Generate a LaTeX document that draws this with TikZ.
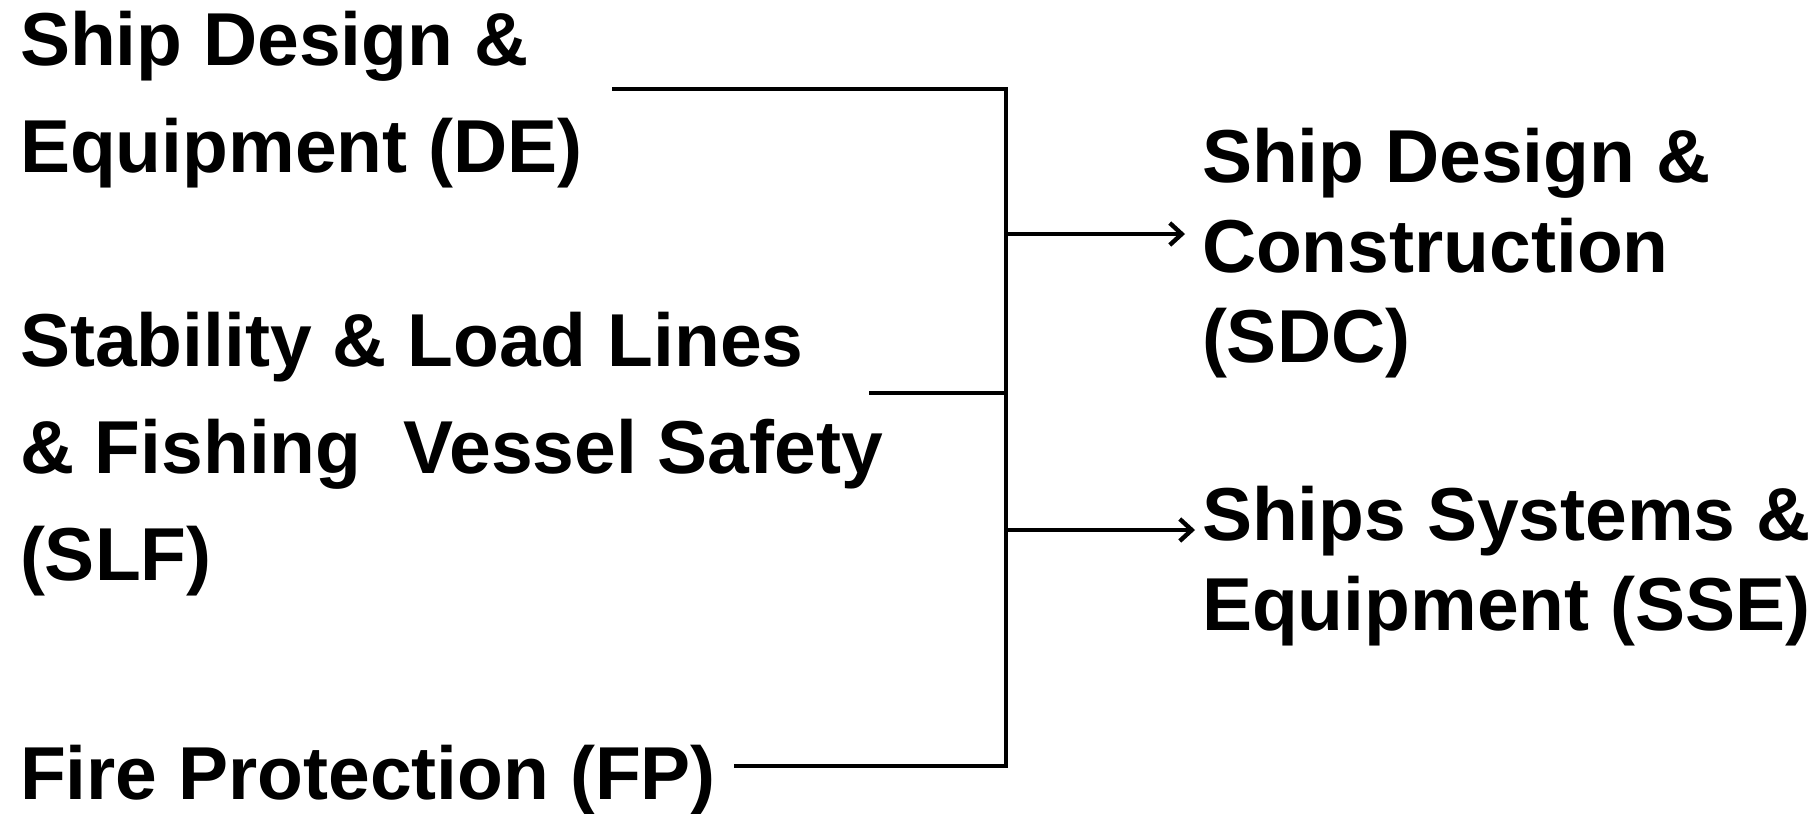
\documentclass[tikz,border=0pt]{standalone}
\usepackage{fontspec}
\setmainfont{Liberation Sans}
\usetikzlibrary{arrows.meta}
\begin{document}
\begin{tikzpicture}[x=0.5pt,y=-0.5pt,
  txt/.style={inner sep=0pt, outer sep=0pt, align=left, anchor=base west,
    font=\fontsize{37.5}{53.5}\selectfont\bfseries},
  rtxt/.style={txt, font=\fontsize{37.5}{45}\selectfont\bfseries},
  wire/.style={line width=2.2pt, line join=miter},
  feed/.style={wire, -{Straight Barb[length=6pt,width=11pt,line width=2.2pt]}}]
  \useasboundingbox (0,0) rectangle (1818,813);

  % committee labels (placed by the baseline of their last line)
  \node[txt] (de)  at (20,172) {Ship Design \&\\Equipment (DE)};
  \node[txt] (slf) at (20,580) {Stability \& Load Lines\\\& Fishing\ \ Vessel Safety\\(SLF)};
  \node[txt] (fp)  at (20,799) {Fire Protection (FP)};
  \node[rtxt] (sdc) at (1202,362) {Ship Design \&\\Construction\\(SDC)};
  \node[rtxt] (sse) at (1202,630) {Ships Systems \&\\Equipment (SSE)};

  % bus and feeder ends
  \coordinate (deEnd)  at (612,89);
  \coordinate (slfEnd) at (869,393);
  \coordinate (fpEnd)  at (734,766);
  \coordinate (busTop) at (1006,89);
  \coordinate (busBot) at (1006,766);
  \coordinate (outA) at (1006,234);
  \coordinate (outB) at (1006,530);

  \draw[wire] (deEnd) -- (busTop) -- (busBot) -- (fpEnd);
  \draw[wire] (slfEnd) -- (slfEnd -| busTop);
  \draw[feed] (outA) -- ([xshift=-8.5pt]sdc.west |- outA);
  \draw[feed] (outB) -- ([xshift=-3.5pt]sse.west |- outB);
\end{tikzpicture}
\end{document}
